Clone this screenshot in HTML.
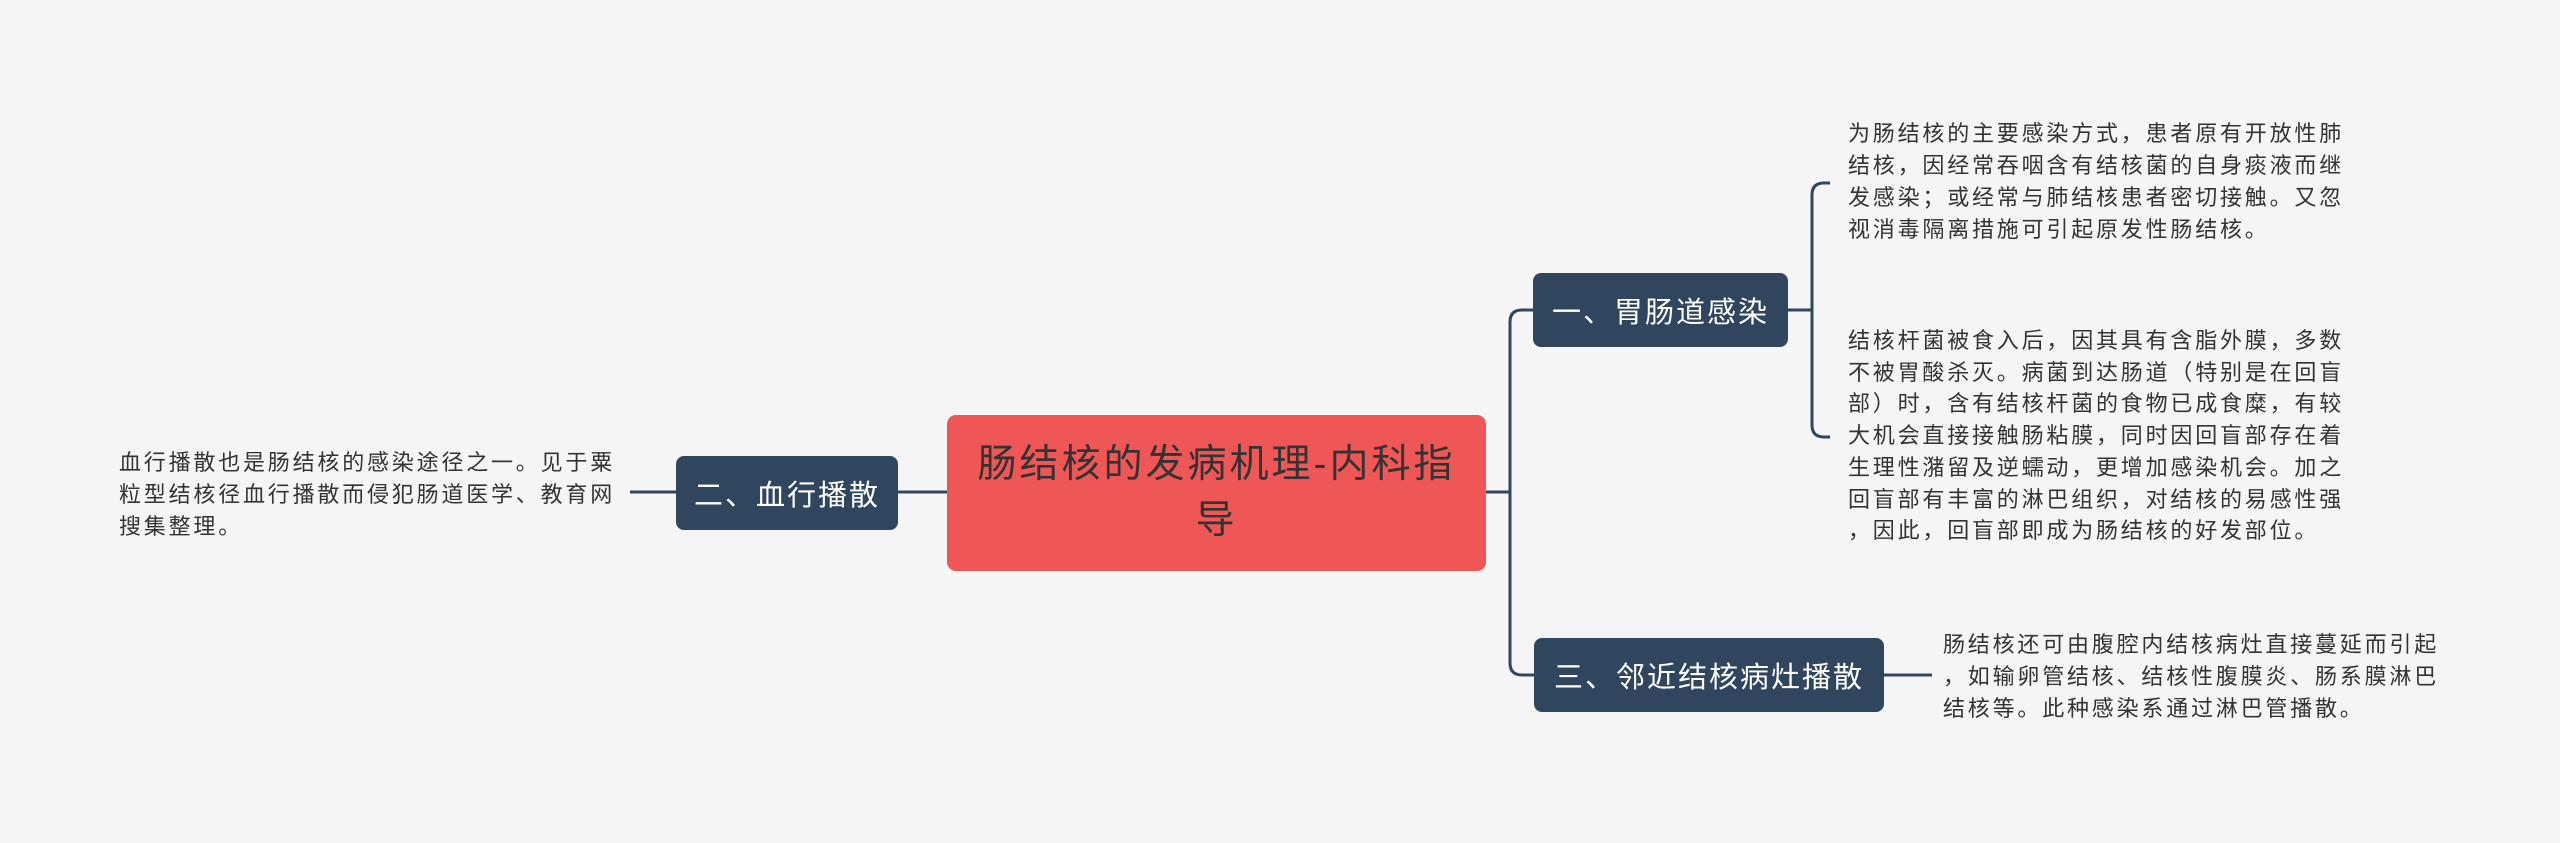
<!DOCTYPE html>
<html><head><meta charset="utf-8"><style>
html,body{margin:0;padding:0;background:#f5f5f5;}
body{width:2560px;height:843px;position:relative;overflow:hidden;font-family:"Liberation Sans","Noto Sans CJK SC",sans-serif;}
.node{position:absolute;background:#30465e;border-radius:8px;color:#fff;font-size:29px;letter-spacing:2px;display:flex;align-items:center;justify-content:center;white-space:nowrap;}
.center{position:absolute;left:947px;top:415px;width:539px;height:156px;background:#ef5656;border-radius:9px;color:#333;font-size:39px;letter-spacing:3px;text-align:center;line-height:56px;box-sizing:border-box;padding-top:22px;}
.t{position:absolute;color:#333;font-size:22px;letter-spacing:2.8px;line-height:32px;white-space:nowrap;}
</style></head><body>
<svg width="2560" height="843" style="position:absolute;left:0;top:0">
<g fill="none" stroke="#30465e" stroke-width="3">
<path d="M630 492 H676"/>
<path d="M898 492 H947"/>
<path d="M1486 492 H1510"/>
<path d="M1533 310 H1522 Q1510 310 1510 322 V663 Q1510 675 1522 675 H1534"/>
<path d="M1788 310 H1812"/>
<path d="M1830 183 H1824 Q1812 183 1812 195 V425 Q1812 437 1824 437 H1830"/>
<path d="M1884 675 H1932"/>
</g>
</svg>
<div class="t" style="left:119px;top:447px;">血行播散也是肠结核的感染途径之一。见于粟<br>粒型结核径血行播散而侵犯肠道医学、教育网<br>搜集整理。</div>
<div class="node" style="left:676px;top:456px;width:222px;height:74px;">二、血行播散</div>
<div class="center">肠结核的发病机理-内科指<br>导</div>
<div class="node" style="left:1533px;top:273px;width:255px;height:74px;">一、胃肠道感染</div>
<div class="node" style="left:1534px;top:638px;width:350px;height:74px;">三、邻近结核病灶播散</div>
<div class="t" style="left:1848px;top:118px;">为肠结核的主要感染方式，患者原有开放性肺<br>结核，因经常吞咽含有结核菌的自身痰液而继<br>发感染；或经常与肺结核患者密切接触。又忽<br>视消毒隔离措施可引起原发性肠结核。</div>
<div class="t" style="left:1848px;top:325px;line-height:31.7px;">结核杆菌被食入后，因其具有含脂外膜，多数<br>不被胃酸杀灭。病菌到达肠道（特别是在回盲<br>部）时，含有结核杆菌的食物已成食糜，有较<br>大机会直接接触肠粘膜，同时因回盲部存在着<br>生理性潴留及逆蠕动，更增加感染机会。加之<br>回盲部有丰富的淋巴组织，对结核的易感性强<br>，因此，回盲部即成为肠结核的好发部位。</div>
<div class="t" style="left:1943px;top:629px;">肠结核还可由腹腔内结核病灶直接蔓延而引起<br>，如输卵管结核、结核性腹膜炎、肠系膜淋巴<br>结核等。此种感染系通过淋巴管播散。</div>
</body></html>
